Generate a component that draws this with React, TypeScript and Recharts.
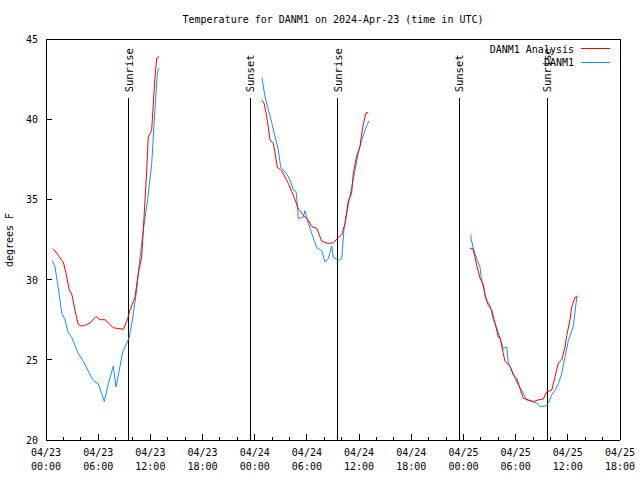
import React from "react";
import { LineChart, Line, XAxis, YAxis, ReferenceLine } from "recharts";

const FONT = "'DejaVu Sans Mono', monospace";

// hours since 2024-04-23 00:00 UTC; null marks a data gap
const analysisHours = [
  0.77, 1.03, 1.81, 1.99, 2.3, 2.68, 2.96, 3.33, 3.71, 4.1, 4.68, 5.06, 5.75, 6.21, 6.78, 7.36, 7.74, 8.89,
  9.35, 9.66, 10.23, 10.61, 11.0, 11.19, 11.58, 11.76, 12.15, 12.53, 12.73, 12.99,
  18,
  24.8, 25.07, 25.3, 25.56, 25.76, 26.14, 26.33, 26.6, 27.1, 27.48, 27.86, 28.25, 28.63, 29.01, 29.2, 29.59,
  30.16, 30.55, 31.13, 31.7, 32.46, 33.03, 33.61, 34.0, 34.38, 34.76, 35.15, 35.33, 35.71, 36.1, 36.41, 36.79, 37.06,
  42,
  48.75, 49.06, 49.33, 49.52, 49.9, 50.28, 50.48, 50.86, 51.25, 51.63, 52.01, 52.2, 52.58, 52.78, 53.35, 53.73,
  54.12, 54.5, 54.88, 55.46, 56.03, 56.61, 57.18, 57.57, 58.15, 58.53, 58.91, 59.3, 59.68, 59.87, 60.25, 60.45,
  60.83, 61.09,
];
const analysisTemps = [
  31.9, 31.8, 31.2, 31.1, 30.4, 29.35, 29.1, 28.1, 27.2, 27.1, 27.2, 27.3, 27.7, 27.5, 27.5, 27.2, 27.0, 26.9,
  27.5, 28.1, 28.9, 30.4, 31.4, 33.1, 36.8, 38.9, 39.3, 42.6, 43.8, 43.9,
  null,
  41.2, 41.0, 40.4, 39.5, 38.7, 38.5, 37.9, 37.0, 36.8, 36.4, 36.0, 35.5, 35.0, 34.4, 34.3, 34.0,
  33.7, 33.3, 33.2, 32.4, 32.25, 32.3, 32.6, 32.8, 33.5, 34.9, 35.4, 36.6, 37.7, 38.3, 39.5, 40.4, 40.4,
  null,
  31.95, 31.95, 31.4, 30.9, 30.1, 29.7, 29.0, 28.4, 28.1, 27.3, 26.4, 26.4, 25.4, 24.9, 24.6, 24.05,
  23.85, 23.2, 22.6, 22.5, 22.4, 22.5, 22.55, 23.0, 23.1, 23.95, 24.8, 25.0, 25.8, 26.5, 27.5, 28.3,
  28.9, 28.9,
];

const stationHours = [
  0.72, 1.03, 1.41, 1.81, 2.18, 2.56, 2.96, 3.33, 3.71, 4.29, 4.86, 5.44, 6.01, 6.4, 6.7, 7.16, 7.74, 8.05,
  8.51, 8.82, 9.08, 9.58, 9.97, 10.43, 10.73, 11.19, 11.69, 12.15, 12.53, 12.8, 12.99,
  18,
  24.85, 25.0, 25.18, 25.56, 25.95, 26.33, 26.71, 26.99, 27.68, 28.06, 28.44, 28.75, 28.89, 29.01, 29.59, 29.78,
  30.16, 30.67, 31.13, 31.7, 32.08, 32.46, 32.85, 33.03, 33.61, 34.0, 34.26, 34.57, 34.95, 35.15, 35.53, 35.91,
  36.3, 36.68, 36.87, 37.14,
  42,
  48.83, 48.9, 49.13, 49.52, 49.9, 50.09, 50.28, 50.67, 51.05, 51.44, 51.82, 52.2, 52.58, 52.97, 53.16, 53.73,
  54.12, 54.7, 55.27, 55.85, 56.42, 56.8, 57.38, 57.76, 58.15, 58.53, 58.91, 59.3, 59.68, 60.06, 60.63, 60.94,
  61.09,
];
const stationTemps = [
  31.2, 30.8, 29.5, 27.9, 27.5, 26.7, 26.4, 25.9, 25.4, 24.9, 24.3, 23.7, 23.5, 22.9, 22.4, 23.5, 24.6, 23.3,
  24.6, 25.5, 25.8, 26.4, 27.6, 29.35, 31.0, 33.1, 35.0, 37.2, 40.6, 42.9, 43.2,
  null,
  42.6, 42.0, 41.4, 40.6, 39.8, 38.9, 38.1, 37.0, 36.6, 36.2, 35.6, 35.5, 34.75, 33.8, 33.9, 34.3,
  33.5, 32.7, 32.0, 31.8, 31.1, 31.3, 32.1, 31.4, 31.2, 31.3, 33.1, 34.1, 35.2, 35.8, 36.8, 37.9,
  38.7, 39.3, 39.6, 39.9,
  null,
  32.8, 32.5, 31.95, 31.3, 30.8, 29.95, 29.55, 28.7, 28.4, 27.5, 27.0, 26.35, 25.7, 25.8, 24.8, 24.15,
  23.6, 23.1, 22.5, 22.4, 22.3, 22.1, 22.1, 22.3, 22.8, 23.1, 23.5, 24.15, 25.2, 26.2, 27.1, 28.5,
  29.0,
];

const sunHours = [9.54, 23.46, 33.57, 47.49, 57.61];
const sunLabels = ["Sunrise", "Sunset", "Sunrise", "Sunset", "Sunrise"];
const sunLineTop = 41.3;

const xTicks = Array.from({ length: 34 }, (_, i) => i * 2);
const yTicks = [20, 25, 30, 35, 40, 45];

const analysisData = analysisHours.map((t, i) => ({ t, v: analysisTemps[i] }));
const stationData = stationHours.map((t, i) => ({ t, v: stationTemps[i] }));

const pad = (n: number) => (n < 10 ? "0" + n : "" + n);

const XTick = ({ x, y, payload, side }: any) => {
  const v = payload.value;
  const major = v % 6 === 0;
  const len = major ? 6 : 3;
  if (side === "top") {
    return <line x1={x} y1={y} x2={x} y2={y + len} stroke="#000" shapeRendering="crispEdges" />;
  }
  return (
    <g>
      <line x1={x} y1={y} x2={x} y2={y - len} stroke="#000" shapeRendering="crispEdges" />
      {major && (
        <text x={x} y={y} textAnchor="middle" fontFamily={FONT} fontSize={10} fill="#000">
          <tspan x={x} dy={16}>{`04/${23 + Math.floor(v / 24)}`}</tspan>
          <tspan x={x} dy={14}>{`${pad(v % 24)}:00`}</tspan>
        </text>
      )}
    </g>
  );
};

const YTick = ({ x, y, payload, side }: any) => {
  if (side === "right") {
    return <line x1={x} y1={y} x2={x - 6} y2={y} stroke="#000" shapeRendering="crispEdges" />;
  }
  return (
    <g>
      <line x1={x} y1={y} x2={x + 6} y2={y} stroke="#000" shapeRendering="crispEdges" />
      <text x={x - 8} y={y} dy={4} textAnchor="end" fontFamily={FONT} fontSize={10} fill="#000">
        {payload.value}
      </text>
    </g>
  );
};

const SunLabel = ({ viewBox, text }: any) => {
  if (!viewBox) return null;
  return (
    <text
      transform={`translate(${viewBox.x + 4}, ${viewBox.y - 6}) rotate(-90)`}
      fontFamily={FONT}
      fontSize={10.5}
      fill="#000"
    >
      {text}
    </text>
  );
};

const axisLine = { stroke: "#000", shapeRendering: "crispEdges" };

export default function App() {
  return (
    <div style={{ position: "absolute", left: 0, top: 0, width: 640, height: 480, background: "#fff" }}>
      <LineChart width={640} height={480} margin={{ top: 38, right: 19, bottom: 10, left: 6 }}>
        <XAxis
          type="number"
          dataKey="t"
          domain={[0, 66]}
          ticks={xTicks}
          interval={0}
          tickSize={0}
          tickMargin={0}
          height={30}
          axisLine={axisLine}
          tick={<XTick side="bottom" />}
          allowDataOverflow
        />
        <XAxis
          xAxisId="top"
          orientation="top"
          type="number"
          dataKey="t"
          domain={[0, 66]}
          ticks={xTicks}
          interval={0}
          tickSize={0}
          tickMargin={0}
          height={1}
          axisLine={axisLine}
          tick={<XTick side="top" />}
        />
        <YAxis
          type="number"
          domain={[20, 45]}
          ticks={yTicks}
          interval={0}
          tickSize={0}
          tickMargin={0}
          width={40}
          axisLine={axisLine}
          tick={<YTick side="left" />}
        />
        <YAxis
          yAxisId="right"
          orientation="right"
          type="number"
          domain={[20, 45]}
          ticks={yTicks}
          interval={0}
          tickSize={0}
          tickMargin={0}
          width={1}
          axisLine={axisLine}
          tick={<YTick side="right" />}
        />
        {sunHours.map((h, i) => (
          <ReferenceLine
            key={i}
            segment={[
              { x: h, y: 20 },
              { x: h, y: sunLineTop },
            ]}
            stroke="#000"
            strokeWidth={1}
            shapeRendering="crispEdges"
            label={(p: any) => <SunLabel {...p} text={sunLabels[i]} />}
          />
        ))}
        <Line
          data={stationData}
          dataKey="v"
          stroke="#1a8cff"
          strokeWidth={1}
          dot={false}
          isAnimationActive={false}
          connectNulls={false}
        />
        <Line
          data={analysisData}
          dataKey="v"
          stroke="#ff0000"
          strokeWidth={1}
          dot={false}
          isAnimationActive={false}
          connectNulls={false}
        />
      </LineChart>

      <div
        style={{
          position: "absolute",
          top: 14,
          left: 46,
          width: 574,
          textAlign: "center",
          fontFamily: FONT,
          fontSize: 10,
          lineHeight: "12px",
        }}
      >
        Temperature for DANM1 on 2024-Apr-23 (time in UTC)
      </div>
      <div
        style={{
          position: "absolute",
          top: 234,
          left: -40,
          width: 100,
          textAlign: "center",
          fontFamily: FONT,
          fontSize: 10,
          lineHeight: "12px",
          transform: "rotate(-90deg)",
        }}
      >
        degrees F
      </div>

      <div style={{ position: "absolute", top: 43, right: 66, fontFamily: FONT, fontSize: 10, lineHeight: "13px", textAlign: "right" }}>
        <div>DANM1 Analysis</div>
        <div>DANM1</div>
      </div>
      <div style={{ position: "absolute", top: 48, left: 581, width: 29, height: 1, background: "#ff0000" }} />
      <div style={{ position: "absolute", top: 62, left: 581, width: 29, height: 1, background: "#1a8cff" }} />
    </div>
  );
}
